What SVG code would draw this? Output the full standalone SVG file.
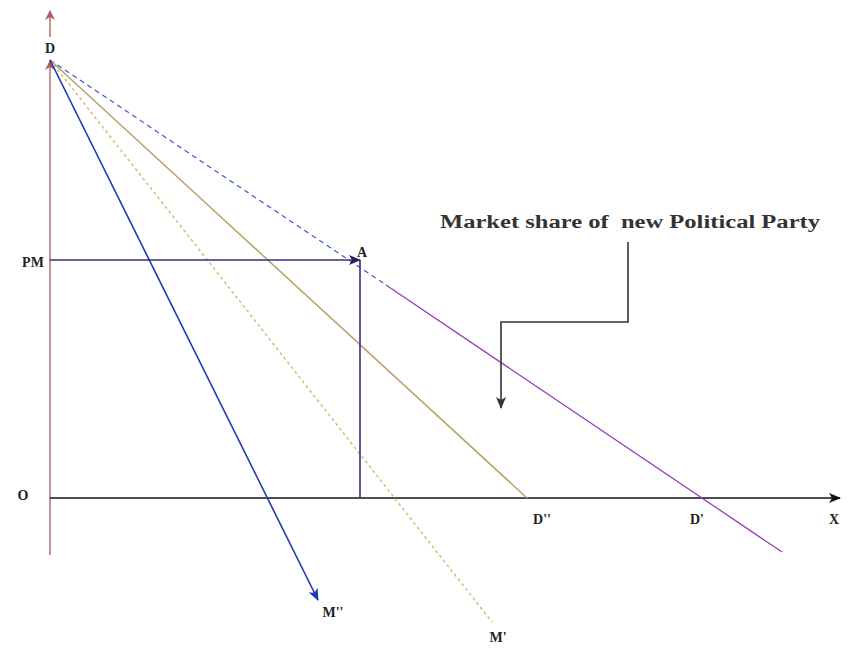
<svg xmlns="http://www.w3.org/2000/svg" width="849" height="655" viewBox="0 0 849 655">
<style>
.lbl{font-family:"Liberation Serif",serif;font-weight:bold;font-size:14px;fill:#222;}
.title{font-family:"Liberation Serif",serif;font-weight:bold;font-size:18px;fill:#333;}
</style>
<defs>
<marker id="ar-red" markerWidth="10" markerHeight="10" refX="9" refY="5" orient="auto" markerUnits="userSpaceOnUse"><path d="M0,0 L10,5 L0,10 L3,5 z" fill="#b05a5a"/></marker>
<marker id="ar-blk" markerWidth="12" markerHeight="10" refX="11" refY="5" orient="auto" markerUnits="userSpaceOnUse"><path d="M0,0 L12,5 L0,10 L3,5 z" fill="#111"/></marker>
<marker id="ar-navy" markerWidth="12" markerHeight="10" refX="11" refY="5" orient="auto" markerUnits="userSpaceOnUse"><path d="M0,0 L12,5 L0,10 L3,5 z" fill="#2a2060"/></marker>
<marker id="ar-blue" markerWidth="12" markerHeight="10" refX="11" refY="5" orient="auto" markerUnits="userSpaceOnUse"><path d="M0,0 L12,5 L0,10 L3,5 z" fill="#1a3ab8"/></marker>
<marker id="ar-gray" markerWidth="12" markerHeight="10" refX="11" refY="5" orient="auto" markerUnits="userSpaceOnUse"><path d="M0,0 L12,5 L0,10 L3,5 z" fill="#333"/></marker>
</defs>
<rect width="849" height="655" fill="#fff"/>
<g id="connectors" fill="none">
<line x1="50" y1="555" x2="50" y2="61" stroke="#b07070" stroke-width="1.5" marker-end="url(#ar-red)"/>
<line x1="50" y1="37" x2="50" y2="11" stroke="#b07070" stroke-width="1.5" marker-end="url(#ar-red)"/>
<line x1="50" y1="498" x2="840" y2="498" stroke="#111" stroke-width="1.5" marker-end="url(#ar-blk)"/>
<line x1="50" y1="60" x2="386" y2="285" stroke="#3a5ac8" stroke-width="1.2" stroke-dasharray="5,4"/>
<line x1="386" y1="285" x2="782" y2="552" stroke="#9a3cc0" stroke-width="1.3"/>
<line x1="50" y1="60" x2="527" y2="498" stroke="#b8a068" stroke-width="1.5"/>
<line x1="50" y1="60" x2="492" y2="622" stroke="#cfc070" stroke-width="1.5" stroke-dasharray="3,3"/>
<line x1="50" y1="60" x2="318" y2="600" stroke="#1a3ab8" stroke-width="1.6" marker-end="url(#ar-blue)"/>
<line x1="50" y1="260" x2="360" y2="260" stroke="#3a2c80" stroke-width="1.5" marker-end="url(#ar-navy)"/>
<line x1="360" y1="260" x2="360" y2="498" stroke="#3a2c80" stroke-width="1.6"/>
<polyline points="628,242 628,322 501,322 501,408" stroke="#333" stroke-width="1.6" marker-end="url(#ar-gray)"/>
</g>
<g id="label-D"><text class="lbl" x="50" y="53" text-anchor="middle">D</text></g>
<g id="label-PM"><text class="lbl" x="33" y="267" text-anchor="middle">PM</text></g>
<g id="label-A"><text class="lbl" x="362" y="257" text-anchor="middle">A</text></g>
<g id="label-O"><text class="lbl" x="23" y="500" text-anchor="middle">O</text></g>
<g id="label-D2"><text class="lbl" x="542" y="524" text-anchor="middle">D''</text></g>
<g id="label-D1"><text class="lbl" x="697" y="524" text-anchor="middle">D'</text></g>
<g id="label-X"><text class="lbl" x="834" y="524" text-anchor="middle">X</text></g>
<g id="label-M2"><text class="lbl" x="333" y="617" text-anchor="middle">M''</text></g>
<g id="label-M1"><text class="lbl" x="498" y="642" text-anchor="middle">M'</text></g>
<g id="callout"><text class="title" x="440" y="228" textLength="380" lengthAdjust="spacingAndGlyphs" xml:space="preserve">Market share of  new Political Party</text></g>
</svg>
